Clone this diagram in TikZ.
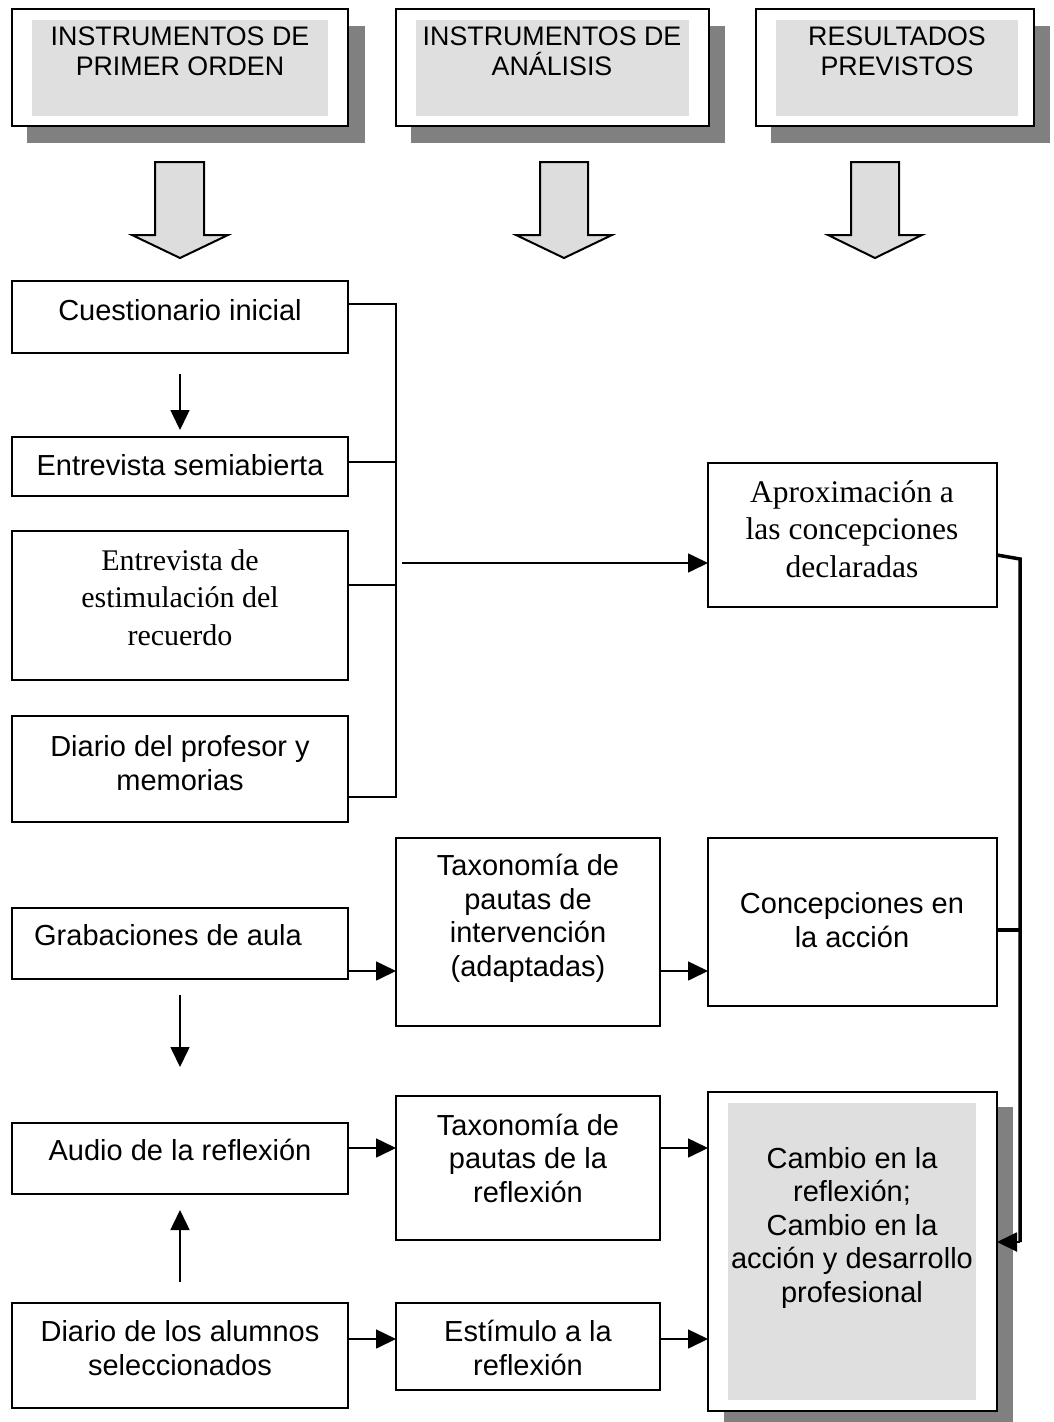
\documentclass[tikz,border=0pt]{standalone}
\usepackage{fontspec}
\setmainfont{Liberation Sans}
\newfontfamily\tms{Liberation Serif}
\usetikzlibrary{arrows.meta}
\definecolor{shadowgray}{HTML}{808080}
\definecolor{innergray}{HTML}{DFDFDF}
\definecolor{arrowgray}{HTML}{DDDDDD}
\begin{document}
\begin{tikzpicture}[x=1pt,y=-1pt,
  box/.style={draw=black,line width=1.8pt,fill=white,rectangle,inner sep=0pt,outer sep=0pt},
  txt/.style={font=\fontsize{29}{33.4}\selectfont,align=center,inner sep=0pt,anchor=base},
  ttxt/.style={font=\tms\fontsize{30}{37.2}\selectfont,align=center,inner sep=0pt,anchor=base},
  htxt/.style={font=\fontsize{26.8}{29.4}\selectfont,align=center,inner sep=0pt,anchor=base},
  link/.style={draw=black,line width=1.6pt},
  arr/.style={link,-{Triangle[length=20pt,width=19pt]}},
  heavy/.style={draw=black,line width=3.5pt},
  blockarrow/.style={draw=black,line width=2pt,fill=arrowgray,line join=miter}]
\useasboundingbox (0,0) rectangle (1053,1422);
\fill[white] (0,0) rectangle (1053,1422);

% ---------- header boxes ----------
\fill[shadowgray] (27,26) rectangle (365,143);
\fill[shadowgray] (411,26) rectangle (725,143);
\fill[shadowgray] (771,26) rectangle (1050,143);
\node[box,minimum width=336pt,minimum height=117pt] (h1) at (180,67.5) {};
\node[box,minimum width=313pt,minimum height=117pt] (h2) at (552.5,67.5) {};
\node[box,minimum width=278pt,minimum height=117pt] (h3) at (895,67.5) {};
\fill[innergray] (32,20) rectangle (328,116);
\fill[innergray] (416,20) rectangle (689,116);
\fill[innergray] (776,20) rectangle (1018,116);
% (multi-line nodes: base anchor = baseline of the last line)
\node[htxt] (th1) at (180,75) {INSTRUMENTOS DE\\PRIMER ORDEN};
\node[htxt] (th2) at (552,75) {INSTRUMENTOS DE\\ANÁLISIS};
\node[htxt] (th3) at (897,75) {RESULTADOS\\PREVISTOS};

% ---------- block arrows ----------
\draw[blockarrow] (155,162) -- (204,162) -- (204,235) -- (228,235) -- (180,258) -- (132,235) -- (155,235) -- cycle;
\draw[blockarrow] (540,162) -- (588,162) -- (588,235) -- (612,235) -- (564,258) -- (516,235) -- (540,235) -- cycle;
\draw[blockarrow] (851,162) -- (899,162) -- (899,235) -- (922,235) -- (875,258) -- (828,235) -- (851,235) -- cycle;

% ---------- left column ----------
\node[box,minimum width=336pt,minimum height=72pt] (c1) at (180,317) {};
\node[box,minimum width=336pt,minimum height=59pt] (c2) at (180,466.5) {};
\node[box,minimum width=336pt,minimum height=149pt] (c3) at (180,605.5) {};
\node[box,minimum width=336pt,minimum height=106pt] (c4) at (180,769) {};
\node[box,minimum width=336pt,minimum height=71pt] (c5) at (180,943.5) {};
\node[box,minimum width=336pt,minimum height=71pt] (c6) at (180,1158.5) {};
\node[box,minimum width=336pt,minimum height=105pt] (c7) at (180,1355.5) {};

\node[txt] (tc1) at (180,320) {Cuestionario inicial};
\node[txt] (tc2) at (180,475) {Entrevista semiabierta};
\node[ttxt] (tc3) at (180,645) {Entrevista de\\estimulación del\\recuerdo};
\node[txt] (tc4) at (180,790) {Diario del profesor y\\memorias};
\node[txt] (tc5) at (168,945) {Grabaciones de aula};
\node[txt] (tc6) at (180,1160) {Audio de la reflexión};
\node[txt] (tc7) at (180,1375) {Diario de los alumnos\\seleccionados};

% ---------- middle column ----------
\node[box,minimum width=264pt,minimum height=188pt] (m1) at (528,932) {};
\node[box,minimum width=264pt,minimum height=144pt] (m2) at (528,1168) {};
\node[box,minimum width=264pt,minimum height=87pt] (m3) at (528,1346.5) {};
\node[txt] (tm1) at (528,976) {Taxonomía de\\pautas de\\intervención\\(adaptadas)};
\node[txt] (tm2) at (528,1202) {Taxonomía de\\pautas de la\\reflexión};
\node[txt] (tm3) at (528,1375) {Estímulo a la\\reflexión};

% ---------- right column ----------
\node[box,minimum width=289pt,minimum height=144pt] (r1) at (852.5,535) {};
\node[box,minimum width=289pt,minimum height=168pt] (r2) at (852.5,922) {};
\fill[shadowgray] (724,1107) rectangle (1013,1430);
\node[box,minimum width=289pt,minimum height=319pt] (r3) at (852.5,1251.5) {};
\fill[innergray] (728,1103) rectangle (976,1400);
\node[ttxt,font=\tms\fontsize{31.5}{37.5}\selectfont] (tr1) at (852,577) {Aproximación a\\las concepciones\\declaradas};
\node[txt] (tr2) at (852,947) {Concepciones en\\la acción};
\node[txt] (tr3) at (852,1302) {Cambio en la\\reflexión;\\Cambio en la\\acción y desarrollo\\profesional};

% ---------- bracket on the left ----------
\coordinate (bt) at (396,304);
\coordinate (b2) at (396,462);
\coordinate (b3) at (396,585);
\coordinate (bb) at (396,797);
\draw[link] (c1.east |- bt) -- (bt) -- (bb) -- (c4.east |- bb);
\draw[link] (c2.east |- b2) -- (b2);
\draw[link] (c3.east |- b3) -- (b3);
\coordinate (a0) at (402,563);
\draw[arr] (a0) -- (r1.west |- a0);

% ---------- vertical arrows in left column ----------
\coordinate (v1s) at (180,374);
\coordinate (v1e) at (180,430);
\draw[arr] (v1s) -- (v1e);
\coordinate (v2s) at (180,995);
\coordinate (v2e) at (180,1067);
\draw[arr] (v2s) -- (v2e);
\coordinate (v3s) at (180,1282);
\coordinate (v3e) at (180,1210);
\draw[arr] (v3s) -- (v3e);

% ---------- horizontal arrows ----------
\coordinate (y1) at (0,971);
\coordinate (y2) at (0,1148);
\coordinate (y3) at (0,1339);
\draw[arr] (c5.east |- y1) -- (m1.west |- y1);
\draw[arr] (m1.east |- y1) -- (r2.west |- y1);
\draw[arr] (c6.east |- y2) -- (m2.west |- y2);
\draw[arr] (m2.east |- y2) -- (r3.west |- y2);
\draw[arr] (c7.east |- y3) -- (m3.west |- y3);
\draw[arr] (m3.east |- y3) -- (r3.west |- y3);

% ---------- heavy connector on the right ----------
\coordinate (k0) at (0,555);
\coordinate (k1) at (1020,559);
\coordinate (k2) at (1020,1242);
\coordinate (k3) at (0,930);
\draw[heavy,line join=miter] (r1.east |- k0) -- (k1) -- (k2);
\draw[heavy] (r2.east |- k3) -- (k1 |- k3);
\draw[link,line width=2pt,-{Triangle[length=20pt,width=19pt]}] (k2) -- (r3.east |- k2);
\end{tikzpicture}
\end{document}
